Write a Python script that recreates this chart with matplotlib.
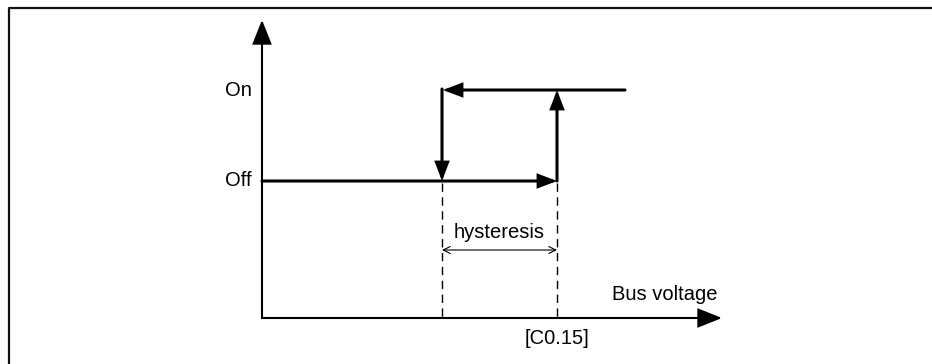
import matplotlib.pyplot as plt

plt.rcParams['font.family'] = ['Liberation Sans', 'DejaVu Sans']

# diagram values (drawn in a pixel-like coordinate system, y grows downwards)
origin = (262, 318)
axis_end_x = 722
axis_end_y = 20
level_names = ['Off', 'On']
level_y = [181, 90]
switch_off_x = 442      # lower threshold (switch back off)
switch_on_x = 557       # [C0.15] threshold
on_line_end_x = 625
hyst_y = 250

fig = plt.figure(figsize=(9.32, 3.64), dpi=100)
ax = fig.add_axes([0, 0, 1, 1])
ax.set_xlim(0, 932)
ax.set_ylim(364, 0)
ax.axis('off')

# frame (left and top edge only)
ax.plot([8.5, 8.5, 932], [364, 7.5, 7.5], color='#111111', lw=1.6, solid_capstyle='butt')


def arrow(x0, y0, x1, y1, lw, hl, hw):
    ax.annotate('', xy=(x1, y1), xytext=(x0, y0),
                arrowprops=dict(arrowstyle='-|>,head_length=%s,head_width=%s' % (hl, hw),
                                mutation_scale=10, lw=lw, color='black',
                                shrinkA=0, shrinkB=0, joinstyle='miter'))


# axes
arrow(origin[0], origin[1], axis_end_x, origin[1], 1.5, 1.5, 0.6)
arrow(origin[0], origin[1], origin[0], axis_end_y, 1.5, 1.5, 0.6)

y_off, y_on = level_y
# Off line up to the switch-on threshold
arrow(origin[0], y_off, switch_on_x, y_off, 2.2, 1.05, 0.4)
# switch on
arrow(switch_on_x, y_off, switch_on_x, y_on, 2.2, 1.05, 0.4)
# On line back to lower threshold
arrow(on_line_end_x, y_on, switch_off_x + 1, y_on, 2.2, 1.05, 0.4)
# switch off
arrow(switch_off_x, y_on - 1, switch_off_x, y_off, 2.2, 1.05, 0.4)

# dashed guides
for x in [switch_off_x, switch_on_x]:
    ax.plot([x, x], [y_off + 2, origin[1]], color='black', lw=1.0,
            linestyle=(0, (6, 4)))

# hysteresis span
ax.annotate('', xy=(switch_on_x, hyst_y), xytext=(switch_off_x, hyst_y),
            arrowprops=dict(arrowstyle='<->,head_length=0.5,head_width=0.25',
                            mutation_scale=10, lw=0.8, color='black',
                            shrinkA=0, shrinkB=0))

fs = 14.5
for name, y in zip(level_names, level_y):
    ax.text(252, y, name, ha='right', va='center', fontsize=fs)
ax.text((switch_off_x + switch_on_x) / 2, 232, 'hysteresis', ha='center', va='center', fontsize=fs)
ax.text(718, 294, 'Bus voltage', ha='right', va='center', fontsize=fs)
ax.text(switch_on_x, 338, '[C0.15]', ha='center', va='center', fontsize=fs)

fig.savefig('out.png', dpi=100)
